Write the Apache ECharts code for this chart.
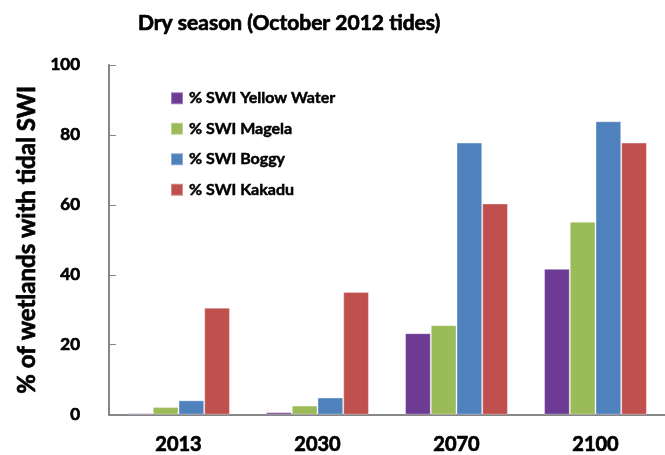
<!DOCTYPE html>
<html><head><meta charset="utf-8">
<script src="https://cdn.jsdelivr.net/npm/echarts@6/dist/echarts.min.js"></script>
<style>html,body{margin:0;padding:0;background:#fff}#c{width:665px;height:455px}</style>
</head><body><div id="c"></div>
<script>
const categories = ['2013', '2030', '2070', '2100'];
const seriesNames = ['% SWI Yellow Water', '% SWI Magela', '% SWI Boggy', '% SWI Kakadu'];
const yellowWater = [0.4, 0.7, 23.3, 41.7];
const magela = [2.2, 2.6, 25.6, 55.2];
const boggy = [4.1, 4.9, 77.8, 83.9];
const kakadu = [30.6, 35.1, 60.4, 77.8];
const yTicks = { min: 0, max: 100, interval: 20 };
const colors = ['#6D3A94', '#9BBB59', '#4F81BD', '#C0504D'];
const values = [yellowWater, magela, boggy, kakadu];

const font = 'Lato';
const heavy = { fontFamily: font, fontWeight: 'bold', color: '#000', textBorderColor: '#000', textBorderWidth: 0.7 };
const chart = echarts.init(document.getElementById('c'), null, { renderer: 'canvas' });
chart.setOption({
  animation: false,
  backgroundColor: '#fff',
  title: {
    text: 'Dry season (October 2012 tides)',
    left: 133, top: 8,
    textStyle: Object.assign({}, heavy, { fontSize: 21 })
  },
  legend: {
    orient: 'vertical', left: 165, top: 85,
    itemWidth: 12, itemHeight: 12, itemGap: 14,
    icon: 'rect',
    data: seriesNames,
    textStyle: Object.assign({}, heavy, { fontSize: 16, textBorderWidth: 0.5, padding: [0, 0, 0, 1] })
  },
  grid: { left: 109, right: -10, top: 65, bottom: 38.5, containLabel: false },
  xAxis: {
    type: 'category', data: categories,
    axisLine: { lineStyle: { color: '#868686', width: 2 } },
    axisTick: { inside: true, length: 6, lineStyle: { color: '#868686', width: 1 } },
    axisLabel: Object.assign({}, heavy, { fontSize: 20, margin: 20 })
  },
  yAxis: {
    type: 'value', min: yTicks.min, max: yTicks.max, interval: yTicks.interval,
    name: '% of wetlands with tidal SWI', nameLocation: 'middle', nameGap: 69,
    nameTextStyle: Object.assign({}, heavy, { fontSize: 24 }),
    splitLine: { show: false },
    axisLine: { show: true, lineStyle: { color: '#868686', width: 2 } },
    axisTick: { show: true, inside: true, length: 7, lineStyle: { color: '#868686', width: 1 } },
    axisLabel: Object.assign({}, heavy, { fontSize: 17, margin: 29 })
  },
  series: seriesNames.map((n, i) => ({
    name: n, type: 'bar', data: values[i],
    barGap: '0%', barCategoryGap: '26%',
    itemStyle: { color: colors[i], borderColor: 'rgba(255,255,255,0.35)', borderWidth: 1 }
  }))
});
</script></body></html>
